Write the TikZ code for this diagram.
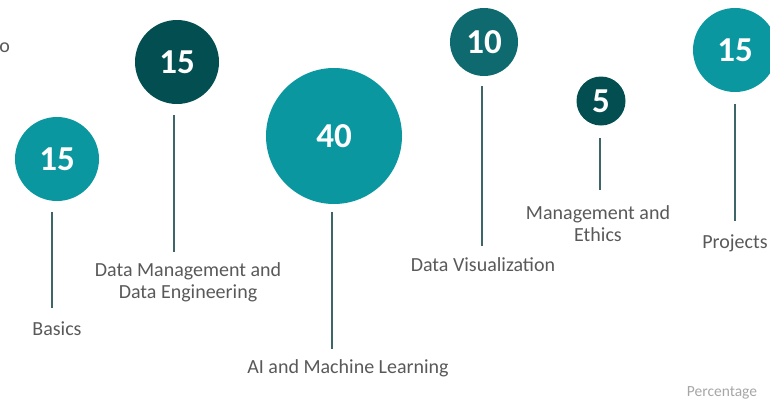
\documentclass[tikz,border=0pt]{standalone}
\usepackage{fontspec}
\setmainfont{Carlito}
\newfontfamily\numfont{Carlito}
\definecolor{tealA}{HTML}{0A979F}
\definecolor{tealB}{HTML}{0E6A6E}
\definecolor{tealC}{HTML}{034E50}
\definecolor{stemcol}{HTML}{3E6568}
\definecolor{labelcol}{HTML}{595959}
\definecolor{notecol}{HTML}{A6A6A6}
\begin{document}
\begin{tikzpicture}[x=1pt, y=-1pt,
        bubble/.style={circle, inner sep=0pt, text=white, font=\numfont\bfseries\fontsize{35}{35}\selectfont},
        stem/.style={draw=stemcol, line width=2pt},
        topic/.style={text=labelcol, align=center, font=\fontsize{20}{22}\selectfont}]
        \useasboundingbox (0, 0) rectangle (770, 402);

        % Basics
        \node[bubble, fill=tealA, minimum size=84pt] (c1) at (57, 159) {15};
        \node[topic] (l1) at (57, 329) {Basics};
        \coordinate (t1) at (52, 212);
        \draw[stem] (t1) -- (t1 |- 0, 308);

        % Data Management and Data Engineering
        \node[bubble, fill=tealC, minimum size=84pt] (c2) at (177, 62) {15};
        \node[topic] (l2) at (188, 282) {Data Management and\\Data Engineering};
        \coordinate (t2) at (174, 115);
        \draw[stem] (t2) -- (t2 |- 0, 252);

        % AI and Machine Learning
        \node[bubble, fill=tealA, minimum size=136pt] (c3) at (334, 136) {40};
        \node[topic] (l3) at (348, 368) {AI and Machine Learning};
        \coordinate (t3) at (332, 212);
        \draw[stem] (t3) -- (t3 |- 0, 349);

        % Data Visualization
        \node[bubble, fill=tealB, minimum size=68pt] (c4) at (484, 42) {10};
        \node[topic] (l4) at (483, 265) {Data Visualization};
        \coordinate (t4) at (482, 86);
        \draw[stem] (t4) -- (t4 |- 0, 246);

        % Management and Ethics
        \node[bubble, fill=tealC, minimum size=49pt] (c5) at (601, 101) {5};
        \node[topic] (l5) at (598, 224) {Management and\\Ethics};
        \coordinate (t5) at (600, 138);
        \draw[stem] (t5) -- (t5 |- 0, 190);

        % Projects
        \node[bubble, fill=tealA, minimum size=84pt] (c6) at (735, 50) {15};
        \node[topic] (l6) at (735, 243) {Projects};
        \coordinate (t6) at (735, 104);
        \draw[stem] (t6) -- (t6 |- 0, 221);

        % cut-off text and axis note
        \node[topic, anchor=east, inner sep=0pt] (cut) at (10, 48) {o};
        \node[text=notecol, font=\fontsize{15.5}{18}\selectfont] (note) at (722, 393) {Percentage};
\end{tikzpicture}
\end{document}
